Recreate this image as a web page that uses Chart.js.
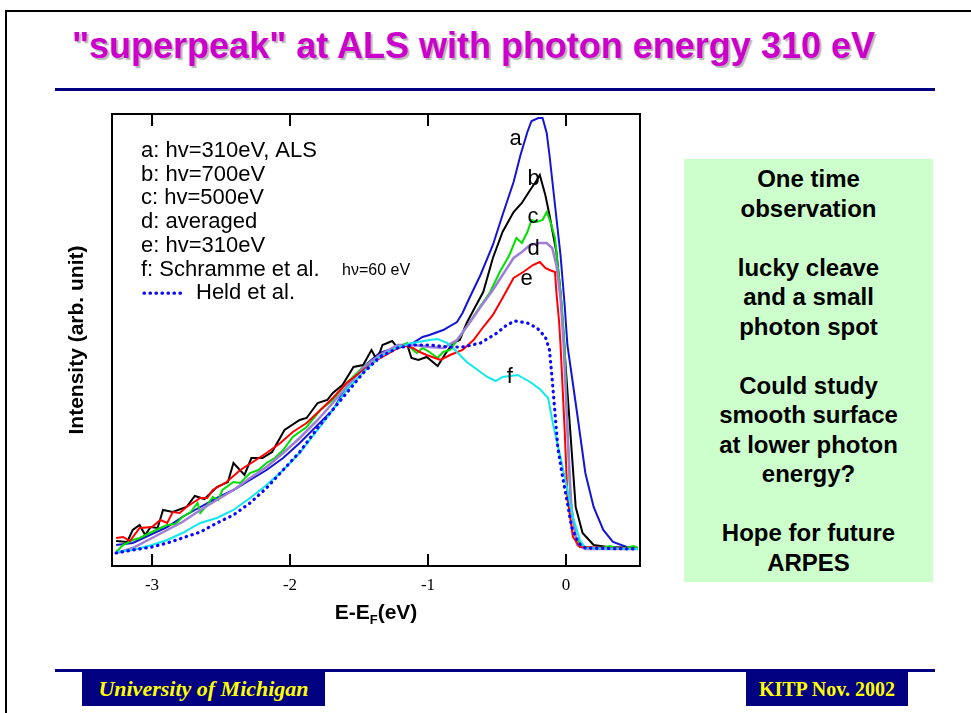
<!DOCTYPE html>
<html>
<head>
<meta charset="utf-8">
<title>superpeak at ALS</title>
<script src="https://cdn.jsdelivr.net/npm/chart.js@4.4.1/dist/chart.umd.min.js"></script>
<style>
  body { margin: 0; width: 971px; height: 713px; background: #fff; position: relative; overflow: hidden;
         font-family: "Liberation Sans", Arial, sans-serif; }
  #frame { position: absolute; left: 5px; top: 10px; width: 990px; height: 720px;
           border-top: 2px solid #000; border-left: 2px solid #000; }
  #title { position: absolute; left: 72px; top: 28px; font-size: 36px; line-height: 36px; font-weight: bold;
           color: #cc00cc; text-shadow: 2px 2px 1px #b8b8b8; white-space: nowrap; }
  .rule { position: absolute; left: 55px; width: 880px; height: 3px; background: #000080; }
  #side { position: absolute; left: 684px; top: 159px; width: 249px; height: 423px; background: #ccffcc;
          box-sizing: border-box; padding-top: 5px; text-align: center; font-weight: bold; font-size: 24px;
          line-height: 29.5px; color: #000; }
  .foot { position: absolute; top: 672px; height: 34px; background: #000080; color: #ffff00;
          font-family: "Liberation Serif", "Times New Roman", serif; font-weight: bold; line-height: 34px;
          text-align: center; white-space: nowrap; }
  #chart { position: absolute; left: 0; top: 0; }
</style>
</head>
<body>
<div id="frame"></div>
<div id="title">"superpeak" at ALS with photon energy 310 eV</div>
<div class="rule" style="top:88px"></div>
<div id="side">One time<br>observation<br><br>lucky cleave<br>and a small<br>photon spot<br><br>Could study<br>smooth surface<br>at lower photon<br>energy?<br><br>Hope for future<br>ARPES</div>
<div class="rule" style="top:669px"></div>
<div class="foot" style="left:82px; width:243px; font-style:italic; font-size:22px;">University of Michigan</div>
<div class="foot" style="left:746px; width:162px; font-size:20px;">KITP Nov. 2002</div>
<canvas id="chart" width="971" height="713"></canvas>

<script>
// E - E_F in eV, intensity in arbitrary units
const aE = [-3.26,-3.14,-3.00,-2.89,-2.78,-2.65,-2.53,-2.41,-2.29,-2.17,-2.05,-1.93,-1.80,-1.69,-1.59,-1.47,-1.35,-1.22,-1.11,-1.04,-0.99,-0.89,-0.79,-0.75,-0.70,-0.62,-0.53,-0.46,-0.38,-0.33,-0.28,-0.25,-0.20,-0.17,-0.14,-0.12,-0.08,-0.04,-0.01,0.01,0.08,0.14,0.20,0.27,0.34,0.44,0.52];
const aI = [21,23,32,39,49,59,68,76,86,96,108,123,141,156,179,199,213,219,223,229,231,236,244,253,268,291,321,351,384,411,434,445,448,448,433,411,361,311,261,221,153,93,59,36,24,19,18];

const bE = [-3.26,-3.18,-3.14,-3.09,-3.05,-3.01,-2.96,-2.92,-2.85,-2.75,-2.69,-2.62,-2.53,-2.45,-2.41,-2.33,-2.28,-2.20,-2.13,-2.04,-1.93,-1.88,-1.80,-1.73,-1.69,-1.62,-1.54,-1.47,-1.41,-1.37,-1.33,-1.26,-1.22,-1.15,-1.12,-1.07,-1.01,-0.93,-0.88,-0.82,-0.77,-0.72,-0.67,-0.60,-0.53,-0.46,-0.38,-0.32,-0.26,-0.22,-0.19,-0.15,-0.12,-0.07,-0.04,-0.02,0.03,0.07,0.12,0.20,0.30,0.52];
const bI = [25,24,36,41,31,39,38,56,54,59,70,67,79,84,103,91,108,108,114,136,146,148,163,166,173,181,199,201,216,206,221,225,218,221,208,206,209,200,211,223,226,243,256,274,308,334,354,363,376,384,391,371,351,314,274,234,136,59,33,21,19,18];

const cE = [-3.26,-3.21,-3.14,-3.09,-3.00,-2.94,-2.89,-2.83,-2.78,-2.72,-2.67,-2.65,-2.60,-2.56,-2.52,-2.49,-2.41,-2.36,-2.29,-2.23,-2.17,-2.11,-2.05,-1.98,-1.88,-1.78,-1.69,-1.59,-1.47,-1.35,-1.22,-1.15,-1.11,-1.08,-1.04,-0.99,-0.93,-0.89,-0.84,-0.75,-0.64,-0.55,-0.48,-0.41,-0.36,-0.32,-0.28,-0.25,-0.21,-0.17,-0.14,-0.11,-0.08,-0.06,-0.03,-0.01,0.01,0.03,0.07,0.12,0.25,0.32,0.39,0.49,0.52];
const cI = [14,21,26,28,34,38,41,42,49,54,63,53,61,69,66,76,84,83,93,96,103,108,116,129,139,156,166,183,199,211,219,223,216,213,218,214,208,214,216,233,256,274,294,311,328,323,334,346,344,346,354,343,328,301,261,221,136,69,29,19,18,20,17,20,18];

const dE = [-3.26,-3.14,-3.00,-2.89,-2.78,-2.65,-2.53,-2.41,-2.29,-2.17,-2.05,-1.93,-1.80,-1.69,-1.59,-1.47,-1.35,-1.22,-1.11,-0.99,-0.89,-0.79,-0.70,-0.62,-0.53,-0.46,-0.38,-0.32,-0.26,-0.19,-0.14,-0.10,-0.07,-0.04,-0.02,0.01,0.04,0.08,0.14,0.52];
const dI = [13,18,28,36,44,56,66,76,88,99,113,128,146,163,179,198,211,221,221,219,218,226,243,259,276,291,308,314,321,323,323,318,301,268,228,136,56,21,17,17];

const eE = [-3.26,-3.21,-3.16,-3.09,-3.00,-2.94,-2.89,-2.85,-2.80,-2.75,-2.65,-2.60,-2.56,-2.46,-2.36,-2.27,-2.17,-2.07,-1.98,-1.88,-1.78,-1.69,-1.59,-1.47,-1.37,-1.28,-1.18,-1.11,-1.06,-1.01,-0.91,-0.84,-0.75,-0.67,-0.60,-0.53,-0.46,-0.38,-0.31,-0.24,-0.19,-0.15,-0.12,-0.08,-0.07,-0.05,-0.04,-0.01,0.01,0.05,0.10,0.52];
const eI = [28,29,25,38,39,46,43,54,53,59,68,68,76,84,96,104,113,123,134,143,156,168,183,196,206,213,221,218,214,211,206,211,216,226,239,251,268,288,294,301,304,298,296,294,274,244,221,136,69,29,19,17];

const fE = [-3.26,-3.14,-3.00,-2.89,-2.78,-2.65,-2.53,-2.41,-2.29,-2.17,-2.05,-1.93,-1.80,-1.69,-1.59,-1.47,-1.35,-1.22,-1.11,-0.99,-0.93,-0.86,-0.79,-0.72,-0.64,-0.57,-0.51,-0.46,-0.35,-0.26,-0.19,-0.13,-0.09,-0.04,0.01,0.05,0.10,0.14,0.52];
const fI = [14,16,21,26,33,43,48,56,68,81,96,113,136,156,176,194,209,219,223,226,227,223,214,204,196,189,185,189,191,184,177,168,139,109,76,49,26,18,17];

const heldE = [-3.26,-3.14,-3.00,-2.89,-2.78,-2.65,-2.53,-2.41,-2.29,-2.17,-2.05,-1.93,-1.80,-1.71,-1.59,-1.47,-1.35,-1.22,-1.11,-0.99,-0.86,-0.75,-0.62,-0.50,-0.43,-0.37,-0.28,-0.21,-0.15,-0.12,-0.10,-0.08,-0.06,-0.03,0.01,0.04,0.09,0.14,0.52];
const heldI = [13,16,19,23,28,34,43,51,63,78,96,114,138,153,173,193,209,218,221,221,219,219,223,233,241,245,243,238,229,216,186,153,119,93,63,39,23,18,17];

const seriesLabels = ['a: hv=310eV, ALS', 'b: hv=700eV', 'c: hv=500eV', 'd: averaged', 'e: hv=310eV', 'f: Schramme et al.', 'Held et al.'];
const seriesColors = ['#1414d8', '#000000', '#00e000', '#a07ed8', '#ff0000', '#10e8f0', '#0a0aff'];
const xTicks = [-3, -2, -1, 0];

// curve letters placed next to the peaks
const curveTags = ['a', 'b', 'c', 'd', 'e', 'f'];
const tagE = [-0.41, -0.28, -0.28, -0.28, -0.33, -0.43];
const tagI = [421, 381, 343, 311, 281, 183];
const fNote = 'h\u03bd=60 eV';

const pts = (xs, ys) => xs.map((x, i) => ({ x: x, y: ys[i] }));
const seriesData = [pts(aE, aI), pts(bE, bI), pts(cE, cI), pts(dE, dI), pts(eE, eI), pts(fE, fI), pts(heldE, heldI)];

const datasets = seriesData.map((data, i) => ({
    label: seriesLabels[i],
    data: data,
    borderColor: seriesColors[i],
    borderWidth: i === 3 ? 2.5 : 2,
    pointRadius: 0,
    tension: 0,
    fill: false,
    order: 7 - i
}));
// Held et al. is a dotted line
Object.assign(datasets[6], { borderWidth: 3.2, borderDash: [0.5, 5.5], borderCapStyle: 'round', order: 0 });

const slidePlugin = {
    id: 'slide',
    afterDatasetsDraw(chart) {
        const { ctx, chartArea: ca, scales: { x, y } } = chart;
        ctx.save();

        // frame and inner ticks
        ctx.strokeStyle = '#000';
        ctx.lineWidth = 2;
        ctx.strokeRect(ca.left, ca.top, ca.right - ca.left, ca.bottom - ca.top);
        x.ticks.forEach(t => {
            const px = x.getPixelForValue(t.value);
            ctx.beginPath();
            ctx.moveTo(px, ca.bottom); ctx.lineTo(px, ca.bottom - 12);
            ctx.moveTo(px, ca.top); ctx.lineTo(px, ca.top + 12);
            ctx.stroke();
        });

        // curve letters
        ctx.fillStyle = '#000';
        ctx.font = '22px "Liberation Sans", Arial, sans-serif';
        ctx.textBaseline = 'alphabetic';
        ctx.textAlign = 'left';
        curveTags.forEach((tag, i) => ctx.fillText(tag, x.getPixelForValue(tagE[i]), y.getPixelForValue(tagI[i])));

        // text legend in the upper left of the plot
        ctx.textBaseline = 'middle';
        const ds = chart.data.datasets;
        ds.forEach((d, i) => {
            const ly = 151 + i * 23.7;
            if (i === ds.length - 1) {
                ctx.save();
                ctx.strokeStyle = d.borderColor;
                ctx.lineWidth = d.borderWidth;
                ctx.lineCap = 'round';
                ctx.setLineDash(d.borderDash);
                ctx.beginPath();
                ctx.moveTo(144, ly); ctx.lineTo(184, ly);
                ctx.stroke();
                ctx.restore();
                ctx.fillText(d.label, 196, ly);
            } else {
                ctx.fillText(d.label, 141, ly);
            }
        });
        ctx.font = '16px "Liberation Sans", Arial, sans-serif';
        ctx.fillText(fNote, 342, 151 + 5 * 23.7 + 1);

        // x axis title with subscript F
        const cx = (ca.left + ca.right) / 2, by = 619;
        const big = 'bold 21px "Liberation Sans", Arial, sans-serif';
        const small = 'bold 13px "Liberation Sans", Arial, sans-serif';
        ctx.textBaseline = 'alphabetic';
        ctx.font = big;
        const w1 = ctx.measureText('E-E').width, w3 = ctx.measureText('(eV)').width;
        ctx.font = small;
        const w2 = ctx.measureText('F').width;
        let sx = cx - (w1 + w2 + w3) / 2;
        ctx.font = big; ctx.fillText('E-E', sx, by); sx += w1;
        ctx.font = small; ctx.fillText('F', sx, by + 5); sx += w2;
        ctx.font = big; ctx.fillText('(eV)', sx, by);

        ctx.restore();
    }
};

new Chart(document.getElementById('chart'), {
    type: 'line',
    data: { datasets: datasets },
    options: {
        responsive: false,
        animation: false,
        devicePixelRatio: 1,
        layout: { padding: { top: 114, right: 331, left: 0, bottom: 0 } },
        plugins: { legend: { display: false }, tooltip: { enabled: false } },
        scales: {
            x: {
                type: 'linear',
                min: -3.29,
                max: 0.536,
                afterBuildTicks: s => { s.ticks = xTicks.map(v => ({ value: v })); },
                afterFit: s => { s.height = 147; },
                grid: { display: false, drawTicks: false },
                border: { display: false },
                ticks: {
                    color: '#000',
                    padding: 9,
                    maxRotation: 0,
                    font: { family: '"Liberation Serif", "Times New Roman", serif', size: 17 }
                }
            },
            y: {
                type: 'linear',
                min: 0,
                max: 452,
                afterFit: s => { s.width = 112; },
                grid: { display: false, drawTicks: false },
                border: { display: false },
                ticks: { display: false },
                title: {
                    display: true,
                    text: 'Intensity (arb. unit)',
                    color: '#000',
                    padding: { top: 65, bottom: 0 },
                    font: { family: '"Liberation Sans", Arial, sans-serif', size: 21, weight: 'bold' }
                }
            }
        }
    },
    plugins: [slidePlugin]
});
</script>
</body>
</html>
